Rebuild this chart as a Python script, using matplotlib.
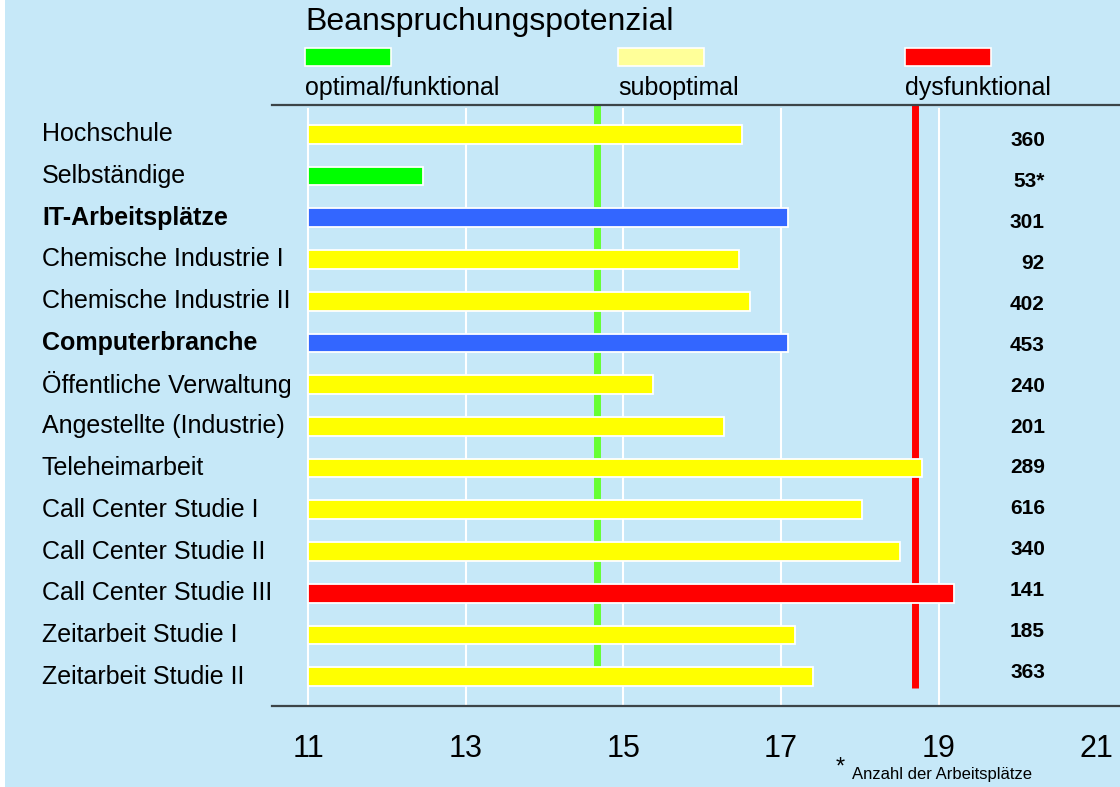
import matplotlib.pyplot as plt
import matplotlib.transforms as mtransforms
from matplotlib.patches import Rectangle

# Daten
categories = ['Hochschule', 'Selbständige', 'IT-Arbeitsplätze', 'Chemische Industrie I',
              'Chemische Industrie II', 'Computerbranche', 'Öffentliche Verwaltung',
              'Angestellte (Industrie)', 'Teleheimarbeit', 'Call Center Studie I',
              'Call Center Studie II', 'Call Center Studie III', 'Zeitarbeit Studie I',
              'Zeitarbeit Studie II']
values = [16.51, 12.45, 17.09, 16.46, 16.60, 17.09, 15.37, 16.28, 18.79, 18.02, 18.51, 19.19, 17.18, 17.40]
groups = ['sub', 'opt', 'it', 'sub', 'sub', 'it', 'sub', 'sub', 'sub', 'sub', 'sub', 'dys', 'sub', 'sub']
counts = ['360', '53*', '301', '92', '402', '453', '240', '201', '289', '616', '340', '141', '185', '363']
bold_rows = ['IT-Arbeitsplätze', 'Computerbranche']
ticks = [11, 13, 15, 17, 19, 21]
thr_optimal = 14.66
thr_dysfunk = 18.70

legend_labels = ['optimal/funktional', 'suboptimal', 'dysfunktional']
legend_colors = ['#00FF00', '#FFFF99', '#FF0000']

bar_colors = {'sub': '#FFFF00', 'opt': '#00FF00', 'it': '#3366FF', 'dys': '#FF0000'}
bg = '#C6E8F8'

plt.rcParams['font.family'] = ['Liberation Sans', 'DejaVu Sans']

fig = plt.figure(figsize=(11.2, 7.87), dpi=100)
fig.patch.set_facecolor('white')
fig.add_artist(Rectangle((5 / 1120, 0), 1, 1, transform=fig.transFigure, facecolor=bg, edgecolor='none', zorder=0))

ax = fig.add_axes([272 / 1120, 81 / 787, 848 / 1120, 601 / 787])
ax.set_facecolor(bg)
ax.patch.set_alpha(0)

y = list(range(len(categories)))
x0 = 11
ax.set_xlim(10.54, 21.3)
ax.set_ylim(13.7, -0.7)

# Gitterlinien
for t in ticks[:-1]:
    ax.plot([t, t], [13.7, -0.6], color='white', lw=1.5, zorder=1)

# Schwellenlinien
ax.plot([thr_optimal, thr_optimal], [13.05, -0.7], color='#66FF33', lw=5, zorder=2, solid_capstyle='butt')
ax.plot([thr_dysfunk, thr_dysfunk], [13.27, -0.7], color='#FF0000', lw=5, zorder=2, solid_capstyle='butt')

ax.barh(y, [v - x0 for v in values], left=x0, height=0.45,
        color=[bar_colors[g] for g in groups], edgecolor='white', linewidth=1.3, zorder=3)

ax.set_xticks(ticks)
ax.set_xticklabels([str(t) for t in ticks])
ax.tick_params(axis='x', length=0, pad=20, labelsize=22)
ax.set_yticks([])

for s in ['left', 'right']:
    ax.spines[s].set_visible(False)
for s in ['top', 'bottom']:
    ax.spines[s].set_color('#3C4448')
    ax.spines[s].set_linewidth(1.6)

# Kategorie-Beschriftungen
trans = mtransforms.blended_transform_factory(fig.transFigure, ax.transData)
for i, c in enumerate(categories):
    ax.text(42 / 1120, i, c, transform=trans, ha='left', va='center', fontsize=18,
            fontweight='bold' if c in bold_rows else 'normal', color='black')

# Anzahl
for i, n in enumerate(counts):
    ax.text(1045 / 1120, 0.15 + i * (41.0 / 41.8), n, transform=trans, ha='right', va='center',
            fontsize=15, fontweight='bold', color='black')

# Legende
fig.text(305 / 1120, 1 - 22 / 787, 'Beanspruchungspotenzial', fontsize=23, ha='left', va='center')
leg_x = [305, 618, 905]
for lx, lab, col in zip(leg_x, legend_labels, legend_colors):
    fig.add_artist(Rectangle((lx / 1120, 1 - 66 / 787), 86 / 1120, 18 / 787, transform=fig.transFigure,
                             facecolor=col, edgecolor='white', linewidth=1.2, zorder=3))
    fig.text(lx / 1120, 1 - 88 / 787, lab, fontsize=18, ha='left', va='center')

# Fussnote
fig.text(836 / 1120, 1 - 768 / 787, '*', fontsize=17, ha='left', va='center')
fig.text(852 / 1120, 1 - 774 / 787, 'Anzahl der Arbeitsplätze', fontsize=12, ha='left', va='center')

fig.savefig('out.png', dpi=100, facecolor=fig.get_facecolor())
